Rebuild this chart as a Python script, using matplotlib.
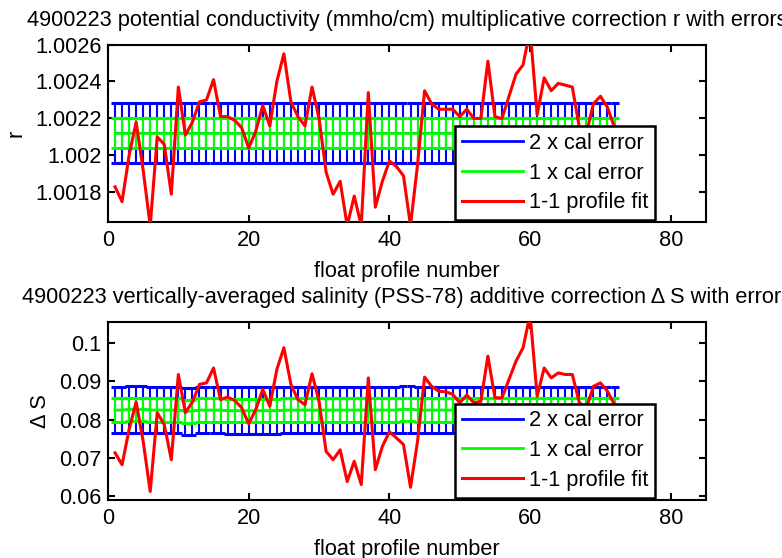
import numpy as np
import matplotlib
matplotlib.use("Agg")
import matplotlib.pyplot as plt
from matplotlib.lines import Line2D

plt.rcParams['font.family'] = ['Liberation Sans', 'DejaVu Sans']

# profile numbers
profiles = np.arange(1, 73)

# 1-1 profile fit of r
r_fit = [1.00183, 1.00175, 1.00200, 1.00218, 1.00192, 1.00162, 1.00210, 1.00206, 1.00179, 1.00237,
         1.00211, 1.00218, 1.00229, 1.00230, 1.00241, 1.00221, 1.00221, 1.00219, 1.00215, 1.00204,
         1.00213, 1.00227, 1.00216, 1.00240, 1.00255, 1.00229, 1.00221, 1.00216, 1.00237, 1.00220,
         1.00191, 1.00179, 1.00186, 1.00162, 1.00178, 1.00162, 1.00234, 1.00172, 1.00186, 1.00197,
         1.00194, 1.00189, 1.00162, 1.00195, 1.00235, 1.00228, 1.00225, 1.00225, 1.00225, 1.00221,
         1.00225, 1.00220, 1.00220, 1.00251, 1.00221, 1.00220, 1.00232, 1.00244, 1.00249, 1.00268,
         1.00222, 1.00242, 1.00235, 1.00239, 1.00238, 1.00237, 1.00215, 1.00212, 1.00228, 1.00232,
         1.00226, 1.00215]

# 1-1 profile fit of delta S
ds_fit = [0.0713, 0.0682, 0.0774, 0.0846, 0.0743, 0.0612, 0.0818, 0.0787, 0.0695, 0.0918,
          0.0818, 0.0846, 0.0892, 0.0896, 0.0935, 0.0852, 0.0859, 0.0850, 0.0831, 0.0789,
          0.0826, 0.0879, 0.0835, 0.0931, 0.0988, 0.0892, 0.0852, 0.0839, 0.0920, 0.0848,
          0.0717, 0.0695, 0.0721, 0.0638, 0.0691, 0.0630, 0.0909, 0.0669, 0.0730, 0.0768,
          0.0752, 0.0735, 0.0623, 0.0743, 0.0911, 0.0887, 0.0874, 0.0873, 0.0866, 0.0844,
          0.0864, 0.0844, 0.0848, 0.0966, 0.0857, 0.0857, 0.0905, 0.0953, 0.0988, 0.1075,
          0.0861, 0.0935, 0.0909, 0.0922, 0.0918, 0.0918, 0.0844, 0.0830, 0.0887, 0.0896,
          0.0874, 0.0839]

# calibration values and 1x errors
r_cal = 1.002123
r_cal_err = 0.0000815
ds_cal = [0.0825, 0.0825, 0.0826, 0.0827, 0.0827, 0.0825, 0.0825, 0.0825, 0.0825, 0.0825,
          0.0822, 0.0822, 0.0825, 0.0825, 0.0825, 0.0825, 0.0823, 0.0823, 0.0823, 0.0823,
          0.0823, 0.0823, 0.0823, 0.0823, 0.0825, 0.0825, 0.0825, 0.0825, 0.0825, 0.0825,
          0.0825, 0.0825, 0.0825, 0.0825, 0.0825, 0.0825, 0.0825, 0.0825, 0.0825, 0.0825,
          0.0825, 0.0827, 0.0827, 0.0825, 0.0825, 0.0825, 0.0825, 0.0825, 0.0825, 0.0825,
          0.0825, 0.0825, 0.0825, 0.0825, 0.0825, 0.0825, 0.0825, 0.0825, 0.0825, 0.0825,
          0.0825, 0.0825, 0.0825, 0.0825, 0.0825, 0.0825, 0.0825, 0.0825, 0.0825, 0.0825,
          0.0825, 0.0825]
ds_cal_err = 0.00305

x_ticks = [0, 20, 40, 60, 80]
r_ticks = [1.0018, 1.002, 1.0022, 1.0024, 1.0026]
r_tick_labels = ["1.0018", "1.002", "1.0022", "1.0024", "1.0026"]
ds_ticks = [0.06, 0.07, 0.08, 0.09, 0.1]
ds_tick_labels = ["0.06", "0.07", "0.08", "0.09", "0.1"]

titles = ["4900223 potential conductivity (mmho/cm) multiplicative correction r with errors",
          "4900223 vertically-averaged salinity (PSS-78) additive correction \u0394 S with errors"]
ylabels = ["r", "\u0394 S"]
legend_labels = ["2 x cal error", "1 x cal error", "1-1 profile fit"]

BLUE = "#0000ff"
GREEN = "#00ff00"
RED = "#ff0000"
FS = 15.7

fig = plt.figure(figsize=(7.82, 5.58), dpi=100)
ax1 = fig.add_axes([0.1381, 0.6022, 0.7647, 0.318])
ax2 = fig.add_axes([0.1381, 0.1048, 0.7647, 0.318])


def draw(ax, center, err, fit, ylim, ticks, labels, title, ylabel):
    center = np.broadcast_to(np.asarray(center, dtype=float), profiles.shape)
    ax.errorbar(profiles, center, yerr=2 * err, fmt='-', color=BLUE, lw=1.5,
                elinewidth=1.5, capsize=2.7, capthick=2.2, zorder=2)
    ax.errorbar(profiles, center, yerr=err, fmt='-', color=GREEN, lw=2.0,
                elinewidth=1.5, capsize=2.7, capthick=2.2, zorder=3)
    ax.plot(profiles, fit, color=RED, lw=2.2, zorder=4)
    ax.set_xlim(0, 85)
    ax.set_ylim(*ylim)
    ax.set_xticks(x_ticks)
    ax.set_yticks(ticks)
    ax.set_yticklabels(labels)
    ax.tick_params(direction='in', top=True, right=True, labelsize=FS,
                   length=5, width=1.5)
    ax.tick_params(axis='x', pad=6)
    ax.tick_params(axis='y', pad=4.5)
    for s in ax.spines.values():
        s.set_linewidth(1.5)
    ax.set_xlabel("float profile number", fontsize=FS, labelpad=7)
    ax.set_ylabel(ylabel, fontsize=FS, labelpad=6)
    ax.set_title(title, fontsize=FS, pad=13.5)
    handles = [Line2D([], [], color=BLUE, lw=2.0),
               Line2D([], [], color=GREEN, lw=2.0),
               Line2D([], [], color=RED, lw=2.2)]
    leg = ax.legend(handles, legend_labels, loc='lower right',
                    bbox_to_anchor=(0.915, 0.011), fontsize=FS, frameon=True,
                    fancybox=False, framealpha=1, edgecolor='black',
                    handlelength=2.8, handletextpad=0.3, labelspacing=0.41,
                    borderpad=0.3, borderaxespad=0)
    leg.get_frame().set_linewidth(1.8)
    leg.set_zorder(10)


draw(ax1, r_cal, r_cal_err, r_fit, (1.00164, 1.0026), r_ticks, r_tick_labels,
     titles[0], ylabels[0])
draw(ax2, ds_cal, ds_cal_err, ds_fit, (0.0591, 0.1055), ds_ticks, ds_tick_labels,
     titles[1], ylabels[1])

fig.savefig("out.png", dpi=100)
